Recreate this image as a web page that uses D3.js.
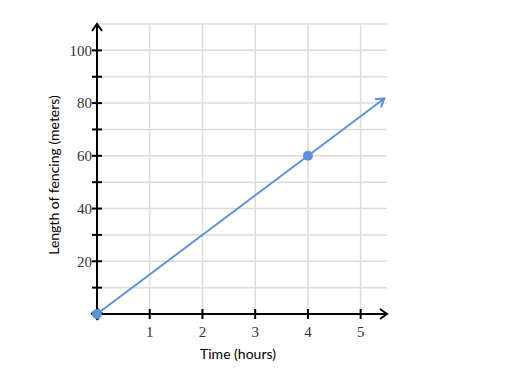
<!DOCTYPE html>
<html>
<head>
<meta charset="utf-8">
<script src="https://cdn.jsdelivr.net/npm/d3@7"></script>
<style>
  body { margin: 0; background: #fff; }
  svg { display: block; }
</style>
</head>
<body>
<svg id="chart" width="509" height="384"></svg>
<script>
"use strict";

// data
const xTicks = [1, 2, 3, 4, 5];
const yMajorTicks = [20, 40, 60, 80, 100];
const yMinorTicks = [10, 30, 50, 70, 90];
const yGridLines = [10, 20, 30, 40, 50, 60, 70, 80, 90, 100, 110];
const lineX = [0, 5.45];
const lineY = [0, 81.75];
const pointX = [0, 4];
const pointY = [0, 60];

const blue = "#5e90da";

let svg = d3.select("#chart");

let x = d3.scaleLinear().domain([0, 5.5]).range([97, 387]);
let y = d3.scaleLinear().domain([0, 110]).range([314, 24]);

// arrow markers
let defs = svg.append("defs");
defs.append("marker")
  .attr("id", "blueArrow")
  .attr("viewBox", "0 0 12 12")
  .attr("refX", 10).attr("refY", 6)
  .attr("markerWidth", 12).attr("markerHeight", 12)
  .attr("markerUnits", "userSpaceOnUse")
  .attr("orient", "auto")
  .append("path")
  .attr("d", "M2,1 L10,6 L2,11")
  .attr("fill", "none")
  .attr("stroke", blue)
  .attr("stroke-width", 2);

defs.append("marker")
  .attr("id", "blackArrow")
  .attr("viewBox", "0 0 12 12")
  .attr("refX", 10).attr("refY", 6)
  .attr("markerWidth", 12).attr("markerHeight", 12)
  .attr("markerUnits", "userSpaceOnUse")
  .attr("orient", "auto")
  .append("path")
  .attr("d", "M3,1 L10,6 L3,11")
  .attr("fill", "none")
  .attr("stroke", "#000")
  .attr("stroke-width", 2);

// grid
let grid = svg.append("g").attr("stroke", "#dcdcdc").attr("stroke-width", 1.5);
grid.selectAll(".hgrid")
  .data(yGridLines)
  .enter().append("line")
  .attr("x1", x(0)).attr("x2", x(5.5))
  .attr("y1", d => y(d)).attr("y2", d => y(d));
grid.selectAll(".vgrid")
  .data(xTicks)
  .enter().append("line")
  .attr("x1", d => x(d)).attr("x2", d => x(d))
  .attr("y1", y(0)).attr("y2", y(110));

// axes
let axes = svg.append("g").attr("stroke", "#000").attr("stroke-width", 2);
axes.append("line")
  .attr("x1", x(0)).attr("x2", x(5.5))
  .attr("y1", y(0)).attr("y2", y(0))
  .attr("marker-end", "url(#blackArrow)");
axes.append("line")
  .attr("x1", x(0)).attr("x2", x(0))
  .attr("y1", y(0)).attr("y2", y(110))
  .attr("marker-end", "url(#blackArrow)");
// arrowheads pointing the negative way at the origin
axes.append("line")
  .attr("x1", x(0) + 1).attr("x2", x(0) - 5)
  .attr("y1", y(0)).attr("y2", y(0))
  .attr("marker-end", "url(#blackArrow)");
axes.append("line")
  .attr("x1", x(0)).attr("x2", x(0))
  .attr("y1", y(0) - 1).attr("y2", y(0) + 5)
  .attr("marker-end", "url(#blackArrow)");

// ticks
axes.selectAll(".xtick")
  .data(xTicks)
  .enter().append("line")
  .attr("x1", d => x(d)).attr("x2", d => x(d))
  .attr("y1", y(0) - 5).attr("y2", y(0) + 5);
axes.selectAll(".ytick")
  .data(yMajorTicks.concat(yMinorTicks))
  .enter().append("line")
  .attr("x1", x(0) - 5).attr("x2", x(0) + 5)
  .attr("y1", d => y(d)).attr("y2", d => y(d));

// tick labels
svg.selectAll(".xlabel")
  .data(xTicks)
  .enter().append("text")
  .attr("x", d => x(d))
  .attr("y", y(0) + 23)
  .attr("text-anchor", "middle")
  .attr("font-family", "Liberation Serif, serif")
  .attr("font-size", 15)
  .attr("fill", "#333")
  .text(d => d);
svg.selectAll(".ylabel")
  .data(yMajorTicks)
  .enter().append("text")
  .attr("x", x(0) - 5)
  .attr("y", d => y(d))
  .attr("dy", "0.35em")
  .attr("text-anchor", "end")
  .attr("font-family", "Liberation Serif, serif")
  .attr("font-size", 15)
  .attr("fill", "#333")
  .text(d => d);

// axis titles
svg.append("text")
  .attr("x", 238)
  .attr("y", 359)
  .attr("text-anchor", "middle")
  .attr("font-family", "Lato, sans-serif")
  .attr("font-size", 14)
  .attr("fill", "#000")
  .text("Time (hours)");
svg.append("text")
  .attr("transform", "translate(59,175) rotate(-90)")
  .attr("text-anchor", "middle")
  .attr("font-family", "Lato, sans-serif")
  .attr("font-size", 14)
  .attr("fill", "#000")
  .text("Length of fencing (meters)");

// the line
svg.append("path")
  .datum(lineX.map((d, i) => [d, lineY[i]]))
  .attr("d", d3.line().x(d => x(d[0])).y(d => y(d[1])))
  .attr("fill", "none")
  .attr("stroke", blue)
  .attr("stroke-width", 2)
  .attr("marker-end", "url(#blueArrow)");

// points
svg.selectAll(".pt")
  .data(pointX.map((d, i) => [d, pointY[i]]))
  .enter().append("circle")
  .attr("cx", d => x(d[0]))
  .attr("cy", d => y(d[1]))
  .attr("r", 5)
  .attr("fill", blue);
</script>
</body>
</html>
